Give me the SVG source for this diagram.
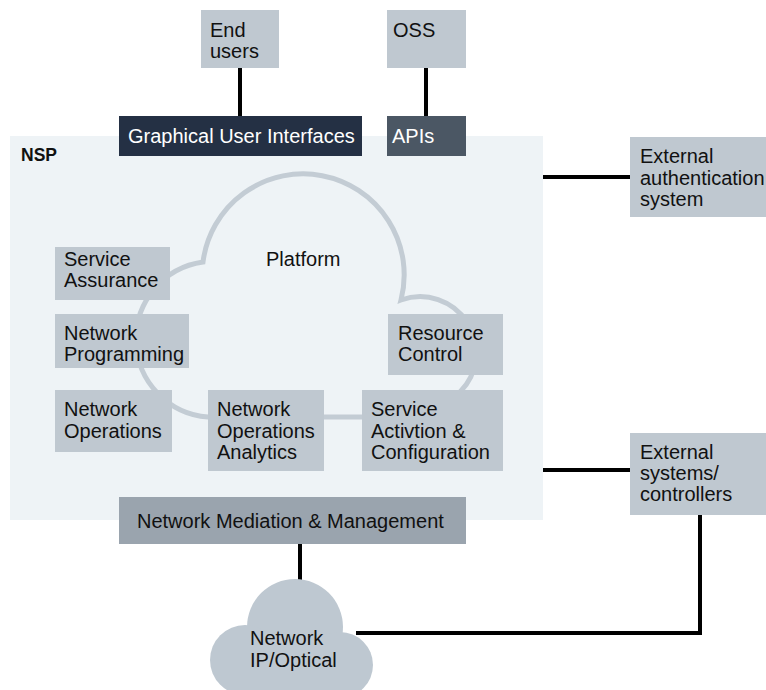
<svg xmlns="http://www.w3.org/2000/svg" width="766" height="690" viewBox="0 0 766 690">
<style>
.t{font-family:"Liberation Sans",Arial,Helvetica,sans-serif;font-size:20px;fill:#111;}
.w{fill:#fff;}
.b{fill:#bfc8d0;}
.ln{stroke:#000;stroke-width:4;fill:none;}
</style>
<rect id="nsp-bg" x="10" y="136" width="533" height="384" fill="#eef3f6"/>
<text class="t" x="21" y="161" style="font-weight:bold;font-size:17.5px">NSP</text>
<g id="connectors">
<line class="ln" x1="240" y1="68" x2="240" y2="116"/>
<line class="ln" x1="426" y1="68" x2="426" y2="116"/>
<line class="ln" x1="543" y1="177" x2="630" y2="177"/>
<line class="ln" x1="543" y1="470" x2="630" y2="470"/>
<line class="ln" x1="300" y1="544" x2="300" y2="582"/>
<polyline class="ln" points="356,633 700,633 700,515"/>
</g>
<g id="platform">
<path d="M203,262 A101,101 0 1 1 401,300 A56,56 0 0 1 460,392 L440,417 L208,417 A78,78 0 0 1 203,262 Z" fill="none" stroke="#c3ccd4" stroke-width="5"/>
<text class="t" x="266" y="266">Platform</text>
</g>
<g id="end-users"><rect class="b" x="201" y="10" width="78" height="58"/><text class="t" x="210" y="37">End</text><text class="t" x="210" y="58">users</text></g>
<g id="oss"><rect class="b" x="387" y="10" width="79" height="58"/><text class="t" x="393" y="37">OSS</text></g>
<g id="gui"><rect x="119" y="116" width="243" height="40" fill="#243044"/><text class="t w" x="128" y="143">Graphical User Interfaces</text></g>
<g id="apis"><rect x="387" y="116" width="79" height="40" fill="#4b5764"/><text class="t w" x="392" y="143">APIs</text></g>
<g id="service-assurance"><rect class="b" x="55" y="247" width="115" height="53"/><text class="t" x="64" y="266">Service</text><text class="t" x="64" y="287">Assurance</text></g>
<g id="network-programming"><rect class="b" x="55" y="314" width="134" height="54"/><text class="t" x="64" y="340">Network</text><text class="t" x="64" y="361">Programming</text></g>
<g id="network-operations"><rect class="b" x="55" y="390" width="117" height="62"/><text class="t" x="64" y="416">Network</text><text class="t" x="64" y="438">Operations</text></g>
<g id="noa"><rect class="b" x="208" y="390" width="116" height="81"/><text class="t" x="217" y="416">Network</text><text class="t" x="217" y="438">Operations</text><text class="t" x="217" y="459">Analytics</text></g>
<g id="resource-control"><rect class="b" x="388" y="314" width="115" height="61"/><text class="t" x="398" y="340">Resource</text><text class="t" x="398" y="361">Control</text></g>
<g id="service-activation"><rect class="b" x="362" y="390" width="141" height="81"/><text class="t" x="371" y="416">Service</text><text class="t" x="371" y="438">Activtion &amp;</text><text class="t" x="371" y="459">Configuration</text></g>
<g id="mediation"><rect x="119" y="497" width="347" height="47" fill="#9aa4ae"/><text class="t" x="137" y="528">Network Mediation &amp; Management</text></g>
<g id="ext-auth"><rect class="b" x="630" y="137" width="136" height="80"/><text class="t" x="640" y="163">External</text><text class="t" x="640" y="185">authentication</text><text class="t" x="640" y="206">system</text></g>
<g id="ext-systems"><rect class="b" x="630" y="433" width="136" height="82"/><text class="t" x="640" y="459">External</text><text class="t" x="640" y="480">systems/</text><text class="t" x="640" y="501">controllers</text></g>
<g id="network">
<g fill="#bec8d1"><circle cx="295" cy="627" r="48"/><circle cx="245" cy="660" r="35"/><circle cx="340" cy="665" r="33"/><rect x="245" y="640" width="95" height="50"/></g>
<text class="t" x="250" y="645">Network</text><text class="t" x="250" y="667">IP/Optical</text>
</g>
</svg>
